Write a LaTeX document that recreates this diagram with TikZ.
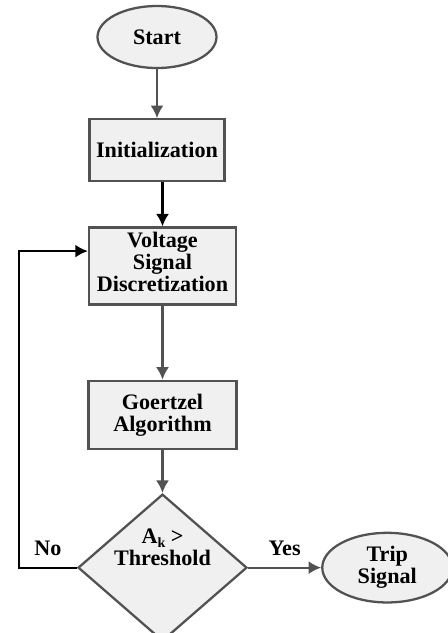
\documentclass[tikz,border=0pt]{standalone}
\usepackage{fontspec}
\setmainfont{Liberation Serif}
\usetikzlibrary{
arrows.meta,
calc,
positioning,
shapes.geometric
}
\tikzset{>={Latex[length=2.5mm,width=2.6mm]}}

\begin{document}
\begin{tikzpicture}[node distance=1.0cm, font=\fontsize{12.6}{12.5}\selectfont\bfseries,
		box/.style={draw=black!68,fill=black!6,line width=1.3pt,align=center,inner sep=2pt},
		term/.style={box,ellipse,minimum width=2.38cm,minimum height=1.24cm},
		proc/.style={box,rectangle,minimum height=1.24cm},
		cond/.style={box,diamond,minimum width=3.38cm,minimum height=2.94cm,inner sep=0pt},
		flow/.style={->,draw=black!68,line width=1.3pt},
		back/.style={->,draw=black,line width=1.3pt}]
		\useasboundingbox (0,0) rectangle (8.96,-12.66);

		\node[term] (start) at (3.14,-0.74) {Start};
		\node[proc,minimum width=2.7cm,below=0.98cm of start] (init) {Initialization};
		\node[proc,minimum width=2.94cm,minimum height=1.54cm,inner sep=0pt,below=0.88cm of init,xshift=0.11cm] (volt) {Voltage\\Signal\\Discretization\\[-8pt]\mbox{}};
		\node[proc,minimum width=2.96cm,minimum height=1.36cm,below=1.48cm of volt] (goer) {Goertzel\\Algorithm};
		\node[cond,below=0.86cm of goer,label={[align=center,yshift=0.4cm]center:A\lower0.4ex\hbox{\footnotesize k} >\\Threshold}] (test) {};
		\node[term,minimum width=2.6cm,minimum height=1.22cm,right=1.46cm of test] (trip) {Trip\\Signal};

		% loop back
		\coordinate (loopx) at (0.38,0);
		\coordinate (voltin) at ($(volt.west)+(0,0.3)$);

		\draw[flow] (start) -- (init);
		\draw[back] (init.south -| volt.north) -- (volt);
		\draw[flow] (volt) -- (goer);
		\draw[flow] (goer) -- (test);
		\draw[flow] (test) -- node[above,inner sep=6pt] {Yes} (trip);
		\draw[back] (test.west) -- node[above,inner sep=6pt] {No} (test.west -| loopx) |- (voltin);
\end{tikzpicture}
\end{document}
